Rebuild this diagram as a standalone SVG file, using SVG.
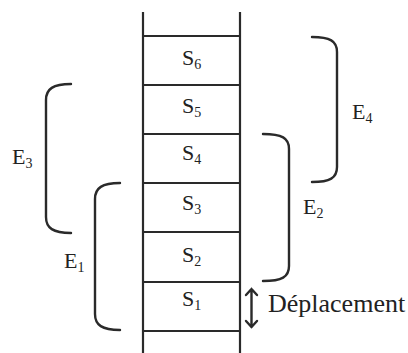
<svg xmlns="http://www.w3.org/2000/svg" width="408" height="353" viewBox="0 0 408 353">
<style>
.ln{stroke:#2a2a2a;stroke-width:2.2;fill:none;stroke-linecap:butt}
.br{stroke:#2a2a2a;stroke-width:2.4;fill:none;stroke-linecap:round}
text{font-family:"Liberation Serif","Times New Roman",serif;font-size:22px;fill:#222}
.sub{font-size:14px}
</style>
<rect width="408" height="353" fill="#fff"/>
<g id="ladder">
<path class="ln" d="M143,12V353M240,12V353"/>
<path class="ln" d="M143,36H240M143,85H240M143,134H240M143,183H240M143,232H240M143,282H240M143,331H240"/>
</g>
<g id="S6"><text x="182" y="65">S<tspan class="sub" dy="4">6</tspan></text></g>
<g id="S5"><text x="182" y="113">S<tspan class="sub" dy="4">5</tspan></text></g>
<g id="S4"><text x="182" y="160">S<tspan class="sub" dy="4">4</tspan></text></g>
<g id="S3"><text x="182" y="210">S<tspan class="sub" dy="4">3</tspan></text></g>
<g id="S2"><text x="182" y="262">S<tspan class="sub" dy="4">2</tspan></text></g>
<g id="S1"><text x="182" y="306">S<tspan class="sub" dy="4">1</tspan></text></g>
<g id="connectors">
<path id="bE3" class="br" d="M71,84C53,84 46,89 46,100V217C46,228 53,233 71,233"/>
<path id="bE1" class="br" d="M120,183C102,183 95,188 95,199V314C95,325 102,330 120,330"/>
<path id="bE4" class="br" d="M312,37C330,37 337,41 337,52V167C337,178 330,182 312,182"/>
<path id="bE2" class="br" d="M263,134C282,134 289,138 289,149V266C289,277 282,281 263,281"/>
<path id="arrow" class="br" d="M251.5,289V327M246,295L251.5,289L257,295M246,321L251.5,327L257,321"/>
</g>
<g id="E3"><text x="12" y="164">E<tspan class="sub" dy="4">3</tspan></text></g>
<g id="E1"><text x="64" y="268">E<tspan class="sub" dy="4">1</tspan></text></g>
<g id="E4"><text x="352" y="119">E<tspan class="sub" dy="4">4</tspan></text></g>
<g id="E2"><text x="303" y="214">E<tspan class="sub" dy="4">2</tspan></text></g>
<g id="deplacement"><text x="268" y="312" style="font-size:26px">Déplacement</text></g>
</svg>
